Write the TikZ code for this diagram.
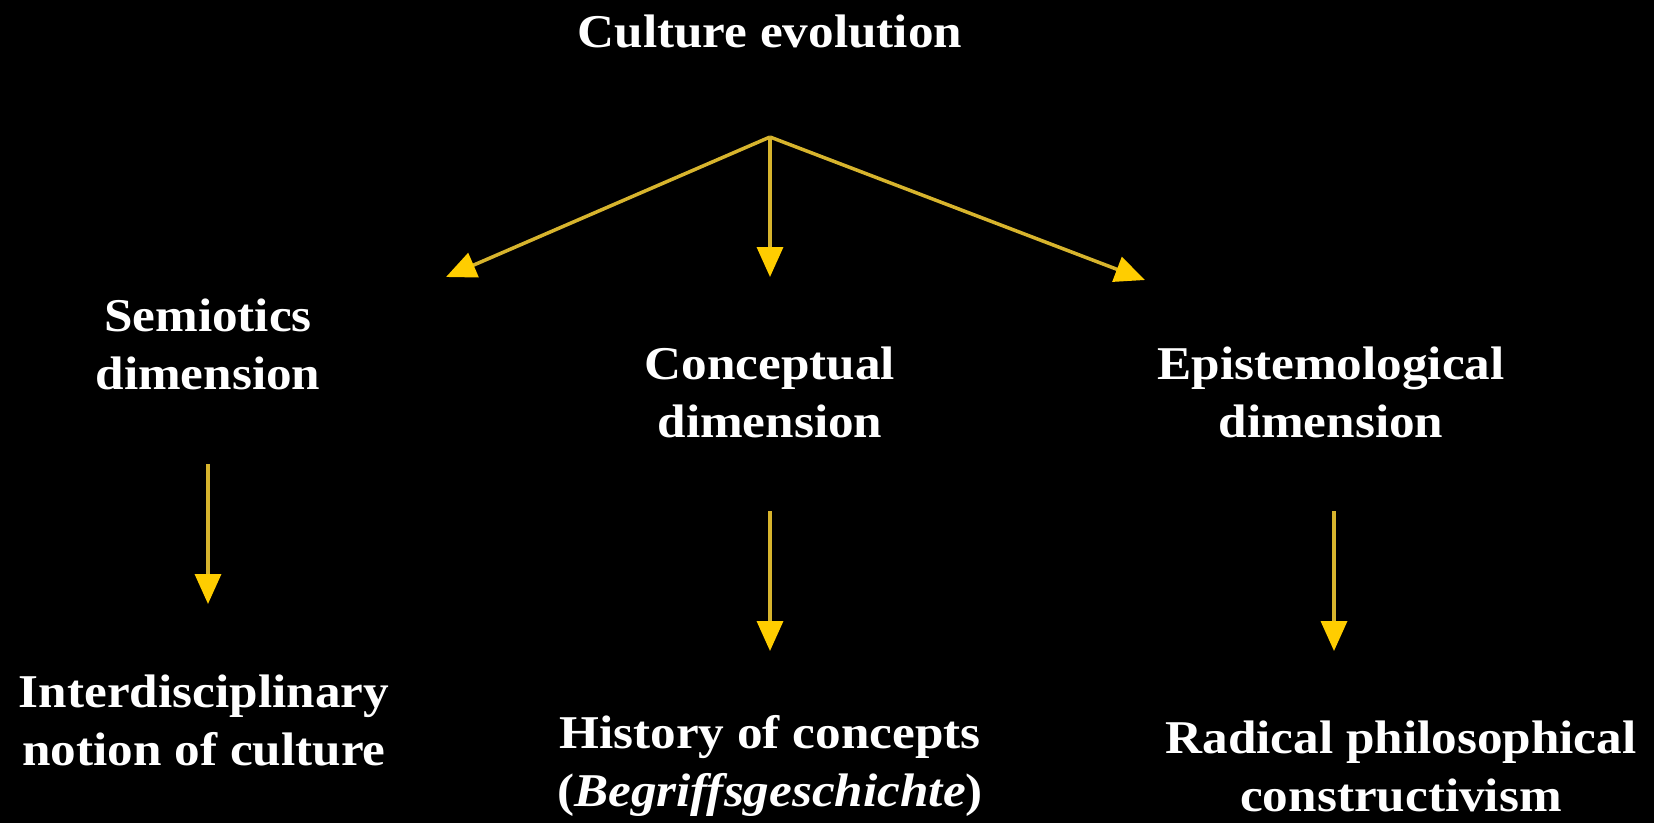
\documentclass[tikz,border=0pt]{standalone}
\usepackage{fontspec}
\setmainfont{Liberation Serif}[FakeStretch=1.09]
\usetikzlibrary{arrows.meta}
\definecolor{lineyellow}{RGB}{215,180,45}
\definecolor{headyellow}{RGB}{255,205,0}
\begin{document}
\begin{tikzpicture}[x=1pt,y=-1pt,
  lbl/.style={text=white,align=center,font=\fontsize{47}{58}\selectfont\bfseries,inner sep=0pt},
  arr/.style={draw=lineyellow,line width=3.5pt,-{Triangle[length=30pt,width=26pt,fill=headyellow,color=headyellow]}}]
\fill[black] (0,0) rectangle (1654,823);
\useasboundingbox (0,0) rectangle (1654,823);
\node[lbl] (title) at (770,31) {Culture evolution};
\coordinate (hub) at (770,137);
\coordinate (tl) at (446,277);
\coordinate (tm) at (770,277);
\coordinate (tr) at (1145,280);
\draw[arr] (hub) -- (tl);
\draw[arr] (hub) -- (tm);
\draw[arr] (hub) -- (tr);
\node[lbl] (sem) at (208,344) {Semiotics\\dimension};
\node[lbl] (con) at (770,392) {Conceptual\\dimension};
\node[lbl] (epi) at (1331,392) {Epistemological\\dimension};
\coordinate (s1) at (208,464);
\coordinate (s2) at (208,604);
\coordinate (c1) at (770,511);
\coordinate (c2) at (770,651);
\coordinate (e1) at (1334,511);
\coordinate (e2) at (1334,651);
\draw[arr] (s1) -- (s2);
\draw[arr] (c1) -- (c2);
\draw[arr] (e1) -- (e2);
\node[lbl] (inter) at (204,720) {Interdisciplinary\\notion of culture};
\node[lbl] (hist) at (770,766) {History of concepts\\(\textit{Begriffsgeschichte})};
\node[lbl] (rad) at (1401,766) {Radical philosophical\\constructivism};
\end{tikzpicture}
\end{document}
